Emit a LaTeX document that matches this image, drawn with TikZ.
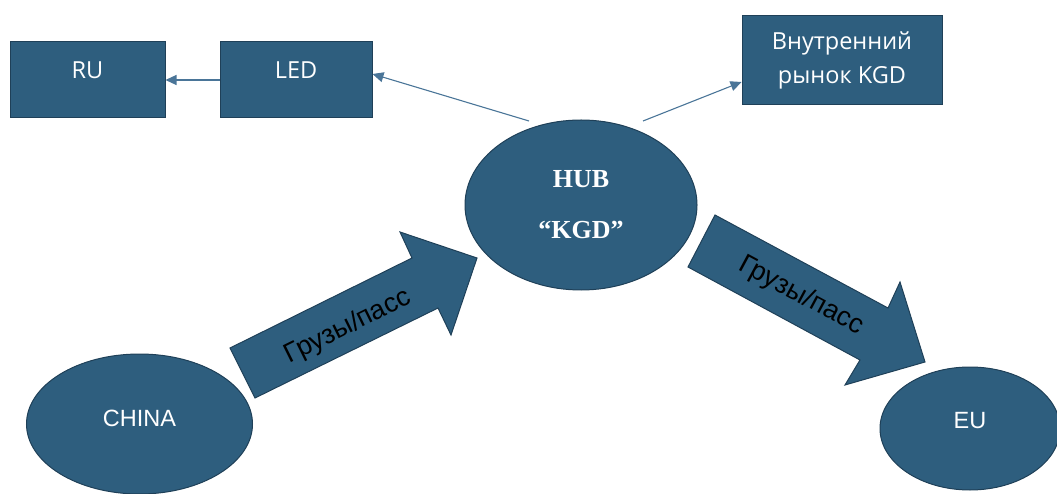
\documentclass[tikz,border=0pt]{standalone}
\usepackage{fontspec}
\setmainfont{Liberation Sans}
\newfontfamily\opensans{Open Sans}
\newfontfamily\arialf{Liberation Sans}
\newfontfamily\timesf{Liberation Serif}
\usetikzlibrary{arrows.meta,shapes.geometric,calc}
\definecolor{fillblue}{HTML}{2E5E7E}
\definecolor{edgeblue}{HTML}{1F4058}
\definecolor{lineblue}{HTML}{4A7598}
\tikzset{
  box/.style={rectangle, fill=fillblue, draw=edgeblue, line width=1pt, inner sep=0pt},
  oval/.style={ellipse, fill=fillblue, draw=edgeblue, line width=1pt, inner sep=0pt},
  boxtext/.style={text=white, font=\opensans\fontsize{23.5}{34}\selectfont, align=center, inner sep=0pt},
  ovaltext/.style={text=white, font=\arialf\fontsize{23.5}{26}\selectfont, inner sep=0pt},
  hubtext/.style={text=white, font=\timesf\bfseries\fontsize{26}{51}\selectfont, align=center, inner sep=0pt},
  thinarrow/.style={draw=lineblue, line width=1.1pt, -{Triangle[length=11pt,width=10pt]}},
  bigarrow/.style={fill=fillblue, draw=edgeblue, line width=1pt, line join=miter},
  arrowtext/.style={text=black, font=\arialf\fontsize{27}{30}\selectfont, inner sep=0pt}
}
\begin{document}
\begin{tikzpicture}[x=1pt, y=-1pt]
\useasboundingbox (0,0) rectangle (1057,494);
% boxes
\node[box, minimum width=155pt, minimum height=76pt] (ru) at (87.5,80) {};
\node[boxtext, yshift=10pt] (rut) at (ru.center) {RU};
\node[box, minimum width=152pt, minimum height=76pt] (led) at (296,80) {};
\node[boxtext, yshift=10pt] (ledt) at (led.center) {LED};
\node[box, minimum width=200pt, minimum height=89pt] (inner) at (842,60.5) {};
\node[boxtext] (innert) at (inner.center) {Внутренний\\рынок KGD};
% ovals
\node[oval, minimum width=232pt, minimum height=170pt] (hub) at (581,205) {};
\node[hubtext] (hubt) at (hub.center) {HUB\\“KGD”};
\node[oval, minimum width=226pt, minimum height=140pt] (china) at (139.5,424) {};
\node[ovaltext, yshift=6pt] (chinat) at (china.center) {CHINA};
\node[oval, minimum width=180pt, minimum height=123pt] (eu) at (970,428.5) {};
\node[ovaltext, yshift=8pt] (eut) at (eu.center) {EU};
% thin connectors
\coordinate (h1) at (529,121);
\coordinate (h2) at (643,121);
\draw[thinarrow] (led.west) -- (ru.east);
\draw[thinarrow] (h1) -- ([yshift=6pt]led.east);
\draw[thinarrow] (h2) -- ([yshift=-21.5pt]inner.west);
% big block arrows
\draw[bigarrow] (230,348) -- (412,258) -- (400,232) -- (477,258) -- (451,335) -- (438,308) -- (255,398) -- cycle;
\node[arrowtext, rotate=26.3] (a1t) at (348,327) {Грузы/пасс};
\draw[bigarrow] (715,215) -- (888,308) -- (900,282) -- (925,362) -- (845,385) -- (860,360) -- (688,267) -- cycle;
\node[arrowtext, rotate=-28.3] (a2t) at (801,296) {Грузы/пасс};
\end{tikzpicture}
\end{document}
